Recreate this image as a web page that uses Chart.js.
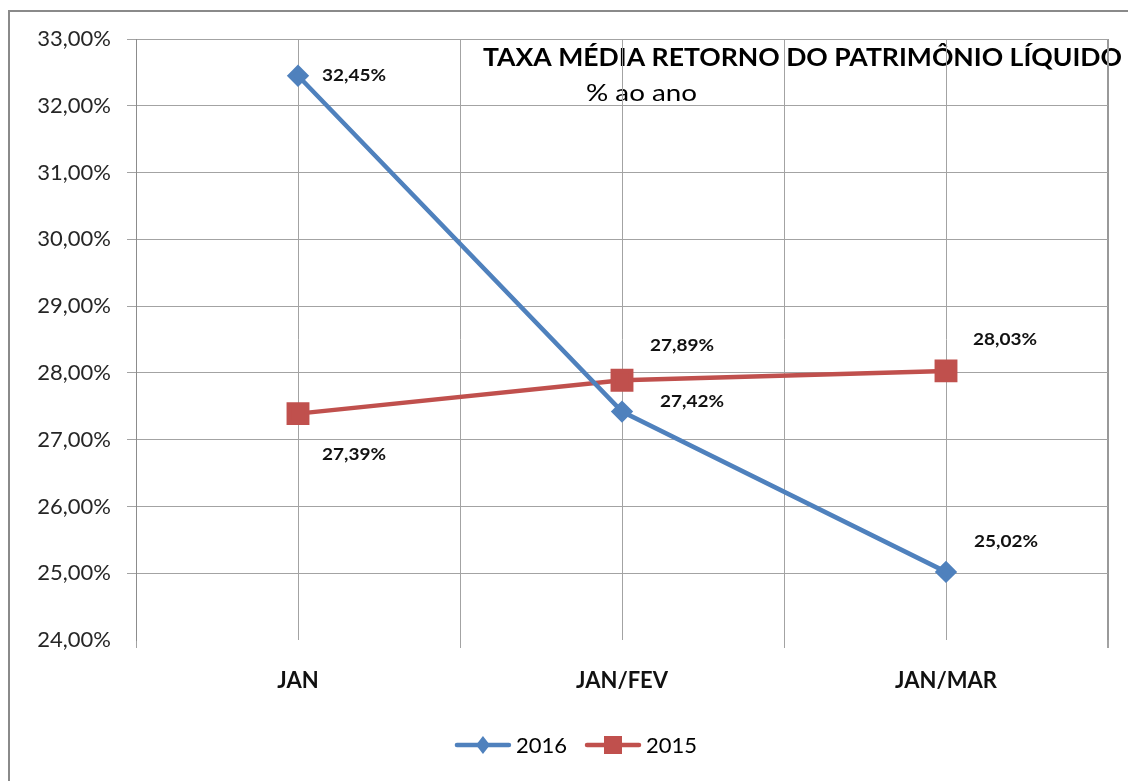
<!DOCTYPE html>
<html>
<head>
<meta charset="utf-8">
<title>Taxa média retorno do patrimônio líquido</title>
<script src="https://cdn.jsdelivr.net/npm/chart.js@4.4.1/dist/chart.umd.min.js"></script>
<style>
  html, body { margin: 0; padding: 0; background: #fff; }
  #wrap { width: 1128px; height: 781px; position: relative; }
</style>
</head>
<body>
<div id="wrap"><canvas id="chart" width="1128" height="781"></canvas></div>
<script>
// --- dados ---
const categories = ['JAN', 'JAN/FEV', 'JAN/MAR'];
const values2016 = [32.45, 27.42, 25.02];
const values2015 = [27.39, 27.89, 28.03];
const seriesNames = ['2016', '2015'];
const yMin = 24;
const yMax = 33;
const chartTitle = 'TAXA MÉDIA RETORNO DO PATRIMÔNIO LÍQUIDO';
const chartSubtitle = '% ao ano';

const BLUE = '#4F81BD';
const RED = '#C0504D';
const GRID = '#a3a3a3';

// 24 -> "24,00%"
const fmt = v => v.toFixed(2).replace('.', ',') + '%';

// categorias ficam em 1, 3, 5 para ter linhas de grade no centro e nas divisas
const toPoints = arr => arr.map((v, i) => ({ x: i * 2 + 1, y: v }));

// texto esticado na horizontal até a largura pedida (fonte do Excel é mais larga)
function fillStretched(ctx, text, x, y, width) {
  const w = ctx.measureText(text).width;
  ctx.save();
  ctx.translate(x, y);
  ctx.scale(width / w, 1);
  ctx.fillText(text, 0, 0);
  ctx.restore();
}

// --- moldura externa e título ---
const framePlugin = {
  id: 'frame',
  beforeDraw(chart) {
    const ctx = chart.ctx;
    ctx.save();
    ctx.strokeStyle = '#8a8a8a';
    ctx.lineWidth = 2;
    ctx.beginPath();
    ctx.moveTo(9, 781);
    ctx.lineTo(9, 11);
    ctx.lineTo(1128, 11);
    ctx.stroke();

    ctx.fillStyle = '#000';
    ctx.textBaseline = 'middle';
    ctx.textAlign = 'left';
    ctx.font = 'bold 25px Lato';
    fillStretched(ctx, chartTitle, 483, 58, 639);
    ctx.font = '23px Lato';
    fillStretched(ctx, chartSubtitle, 586, 94, 111);
    ctx.restore();
  }
};

// --- rótulos dos pontos ---
const labelPlugin = {
  id: 'pointLabels',
  afterDatasetsDraw(chart) {
    const ctx = chart.ctx;
    ctx.save();
    ctx.font = 'bold 17px Lato';
    ctx.fillStyle = '#111';
    ctx.textAlign = 'left';
    ctx.textBaseline = 'middle';
    chart.data.datasets.forEach((ds, di) => {
      const meta = chart.getDatasetMeta(di);
      meta.data.forEach((pt, i) => {
        const off = ds.labelOffsets[i];
        fillStretched(ctx, fmt(ds.data[i].y), pt.x + off[0], pt.y + off[1], 64);
      });
    });
    ctx.restore();
  }
};

// --- legenda (linha + marcador, estilo Excel) ---
const legendPlugin = {
  id: 'lineLegend',
  afterDraw(chart) {
    const ctx = chart.ctx;
    const y = 745;
    const lineW = 52;
    const gap = 7;
    const itemGap = 20;
    ctx.save();
    ctx.font = '22px Lato';
    ctx.textBaseline = 'middle';
    const items = chart.data.datasets.map(ds => ({ ds, w: ctx.measureText(ds.label).width }));
    const total = items.reduce((s, it) => s + lineW + gap + it.w, 0) + itemGap * (items.length - 1);
    let x = 577 - total / 2;
    items.forEach(({ ds, w }) => {
      ctx.strokeStyle = ds.borderColor;
      ctx.lineWidth = 4.5;
      ctx.lineCap = 'round';
      ctx.beginPath();
      ctx.moveTo(x, y);
      ctx.lineTo(x + lineW, y);
      ctx.stroke();
      ctx.fillStyle = ds.borderColor;
      const cx = x + lineW / 2;
      if (ds.pointStyle === 'rectRot') {
        ctx.beginPath();
        ctx.moveTo(cx, y - 9);
        ctx.lineTo(cx + 7, y);
        ctx.lineTo(cx, y + 9);
        ctx.lineTo(cx - 7, y);
        ctx.closePath();
        ctx.fill();
      } else {
        ctx.fillRect(cx - 9, y - 9, 18, 18);
      }
      ctx.fillStyle = '#000';
      ctx.fillText(ds.label, x + lineW + gap, y + 1);
      x += lineW + gap + w + itemGap;
    });
    ctx.restore();
  }
};

Chart.defaults.font.family = 'Lato';

new Chart(document.getElementById('chart'), {
  type: 'line',
  data: {
    datasets: [
      {
        label: seriesNames[0],
        data: toPoints(values2016),
        borderColor: BLUE,
        backgroundColor: BLUE,
        borderWidth: 4.5,
        pointStyle: 'rectRot',
        pointRadius: 8,
        pointHoverRadius: 8,
        tension: 0,
        labelOffsets: [[24, 0], [38, -10], [28, -30]]
      },
      {
        label: seriesNames[1],
        data: toPoints(values2015),
        borderColor: RED,
        backgroundColor: RED,
        borderWidth: 4.5,
        pointStyle: 'rect',
        pointRadius: 13,
        pointHoverRadius: 13,
        tension: 0,
        labelOffsets: [[24, 41], [28, -35], [27, -31]]
      }
    ]
  },
  options: {
    responsive: false,
    devicePixelRatio: 1,
    animation: false,
    events: [],
    layout: { padding: { top: 39, right: 20, bottom: 61, left: 0 } },
    plugins: {
      legend: { display: false },
      title: { display: false },
      tooltip: { enabled: false }
    },
    scales: {
      x: {
        type: 'linear',
        min: 0,
        max: categories.length * 2,
        ticks: {
          stepSize: 1,
          autoSkip: false,
          maxRotation: 0,
          padding: 20,
          color: '#111',
          font: { size: 22, weight: 'bold' },
          callback: v => (v % 2 === 1 ? categories[(v - 1) / 2] : '')
        },
        grid: {
          color: c => (c.tick && c.tick.value === categories.length * 2 ? '#999' : GRID),
          lineWidth: c => (c.tick && c.tick.value === categories.length * 2 ? 2 : 1),
          tickLength: 8,
          tickColor: c => (c.tick && c.tick.value % 2 === 0 ? GRID : 'rgba(0,0,0,0)')
        },
        border: { display: false },
        afterFit: s => { s.height = 80; }
      },
      y: {
        min: yMin,
        max: yMax,
        ticks: {
          stepSize: 1,
          padding: 16,
          color: '#262626',
          font: { size: 22 },
          callback: v => fmt(v)
        },
        grid: {
          color: c => (c.tick && c.tick.value === yMin ? 'rgba(0,0,0,0)' : GRID),
          tickLength: 9,
          tickColor: c => (c.tick && c.tick.value === yMin ? 'rgba(0,0,0,0)' : GRID)
        },
        border: { color: '#8c8c8c', width: 1 },
        afterFit: s => { s.width = 136; }
      }
    }
  },
  plugins: [framePlugin, labelPlugin, legendPlugin]
});
</script>
</body>
</html>
